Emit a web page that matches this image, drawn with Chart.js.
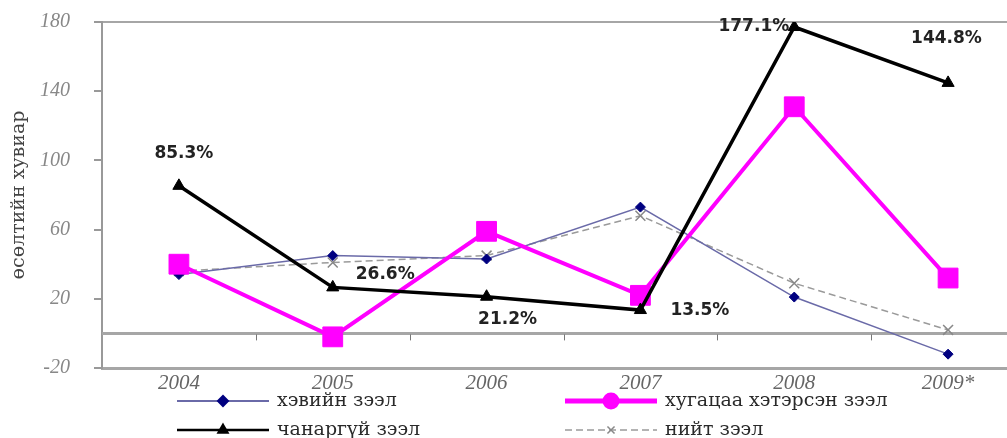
<!DOCTYPE html>
<html>
<head>
<meta charset="utf-8">
<script src="https://cdn.jsdelivr.net/npm/chart.js@4"></script>
<style>
  html, body { margin: 0; padding: 0; background: #fff; overflow: hidden; }
  #wrap { width: 1040px; height: 438px; }
</style>
</head>
<body>
<div id="wrap"><canvas id="loanChart"></canvas></div>
<script>
// values (growth, %)
const years = ['2004', '2005', '2006', '2007', '2008', '2009*'];
const normalLoans = [34, 45, 43, 73, 21, -12];
const overdueLoans = [40, -2, 59, 22, 131, 32];
const badLoans = [85.3, 26.6, 21.2, 13.5, 177.1, 144.8];
const totalLoans = [36, 41, 45, 68, 29, 2];
const yTicks = [-20, 20, 60, 100, 140, 180];

// where the % labels of the bad-loan line sit, relative to each point
const badLabelOffsets = [[5, -32, 'center'], [23, -13, 'left'], [21, 23, 'center'],
  [30, 1, 'left'], [-5, 0, 'right'], [-37, -44, 'left']];

const AXIS_GREY = '#a6a6a6';

// zero line with little tick marks between the categories
const zeroAxis = {
  id: 'zeroAxis',
  beforeDatasetsDraw(chart) {
    const { ctx, chartArea, scales: { x, y } } = chart;
    const y0 = y.getPixelForValue(0);
    const half = (x.getPixelForValue(1) - x.getPixelForValue(0)) / 2;
    ctx.save();
    ctx.strokeStyle = AXIS_GREY;
    ctx.lineWidth = 3;
    ctx.beginPath();
    ctx.moveTo(chartArea.left, y0);
    ctx.lineTo(chartArea.right, y0);
    ctx.stroke();
    ctx.lineWidth = 1;
    ctx.strokeStyle = '#777';
    for (let i = 0; i < years.length - 1; i++) {
      const px = Math.round(x.getPixelForValue(i) + half) + 0.5;
      ctx.beginPath();
      ctx.moveTo(px, y0 + 1);
      ctx.lineTo(px, y0 + 7);
      ctx.stroke();
    }
    ctx.restore();
  }
};

// percent labels on the bad-loan series
const badLabels = {
  id: 'badLabels',
  afterDatasetsDraw(chart) {
    const { ctx } = chart;
    const meta = chart.getDatasetMeta(2);
    ctx.save();
    ctx.font = 'bold 17px "DejaVu Sans"';
    ctx.fillStyle = '#222';
    ctx.textBaseline = 'middle';
    meta.data.forEach((pt, i) => {
      const [dx, dy, align] = badLabelOffsets[i];
      ctx.textAlign = align;
      ctx.fillText(badLoans[i].toFixed(1) + '%', pt.x + dx, pt.y + dy);
    });
    ctx.restore();
  }
};

// two-column legend under the axis
const legendSlots = [[177, 33], [565, 33], [177, 62], [565, 62]];
const gridLegend = {
  id: 'gridLegend',
  afterDraw(chart) {
    const { ctx, chartArea } = chart;
    ctx.save();
    chart.data.datasets.forEach((ds, i) => {
      const lx = legendSlots[i][0];
      const ly = chartArea.bottom + legendSlots[i][1];
      const len = 92;
      ctx.strokeStyle = ds.borderColor;
      ctx.lineWidth = ds.legendLineWidth;
      ctx.setLineDash(ds.borderDash || []);
      ctx.beginPath();
      ctx.moveTo(lx, ly);
      ctx.lineTo(lx + len, ly);
      ctx.stroke();
      ctx.setLineDash([]);
      ctx.fillStyle = ds.pointBackgroundColor;
      ctx.strokeStyle = ds.pointBorderColor;
      Chart.helpers.drawPoint(ctx, {
        pointStyle: ds.legendPointStyle,
        radius: ds.legendPointRadius,
        rotation: 0,
        borderWidth: ds.pointBorderWidth
      }, lx + len / 2, ly);
      ctx.fillStyle = '#2a2a2a';
      ctx.font = '19px "DejaVu Serif"';
      ctx.textBaseline = 'middle';
      ctx.textAlign = 'left';
      ctx.fillText(ds.label, lx + len + 8, ly);
    });
    ctx.restore();
  }
};

new Chart(document.getElementById('loanChart'), {
  type: 'line',
  data: {
    labels: years,
    datasets: [
      {
        label: 'хэвийн зээл',
        data: normalLoans,
        borderColor: '#6a6aa8',
        borderWidth: 1.5,
        legendLineWidth: 2,
        pointStyle: 'rectRot',
        pointRadius: 5,
        legendPointStyle: 'rectRot',
        legendPointRadius: 5,
        pointBackgroundColor: '#000080',
        pointBorderColor: '#000080',
        pointBorderWidth: 1,
        order: 2
      },
      {
        label: 'хугацаа хэтэрсэн зээл',
        data: overdueLoans,
        borderColor: '#ff00ff',
        borderWidth: 4,
        legendLineWidth: 5,
        pointStyle: 'rect',
        pointRadius: 14,
        legendPointStyle: 'circle',
        legendPointRadius: 6,
        pointBackgroundColor: '#ff00ff',
        pointBorderColor: '#ff00ff',
        pointBorderWidth: 1,
        order: 1
      },
      {
        label: 'чанаргүй зээл',
        data: badLoans,
        borderColor: '#000',
        borderWidth: 3.5,
        legendLineWidth: 2.5,
        pointStyle: 'triangle',
        pointRadius: 7,
        legendPointStyle: 'triangle',
        legendPointRadius: 5,
        pointBackgroundColor: '#000',
        pointBorderColor: '#000',
        pointBorderWidth: 1,
        order: 0
      },
      {
        label: 'нийт зээл',
        data: totalLoans,
        borderColor: '#9a9a9a',
        borderWidth: 1.5,
        borderDash: [7, 4],
        legendLineWidth: 1.5,
        pointStyle: 'crossRot',
        pointRadius: 7,
        legendPointStyle: 'crossRot',
        legendPointRadius: 5,
        pointBackgroundColor: '#888',
        pointBorderColor: '#888',
        pointBorderWidth: 1.5,
        order: 3
      }
    ]
  },
  options: {
    responsive: true,
    maintainAspectRatio: false,
    animation: false,
    layout: { padding: { top: 22, right: 5, left: 8, bottom: 0 } },
    plugins: {
      legend: { display: false },
      tooltip: { enabled: false }
    },
    elements: { line: { tension: 0 } },
    scales: {
      x: {
        offset: true,
        grid: { display: false },
        border: { display: true, color: AXIS_GREY, width: 3 },
        ticks: {
          color: '#666',
          font: { family: 'Liberation Serif', style: 'italic', size: 21 },
          padding: -5
        },
        afterFit(scale) { scale.height = 70; }
      },
      y: {
        min: -20,
        max: 180,
        afterBuildTicks(scale) { scale.ticks = yTicks.map(v => ({ value: v })); },
        grid: {
          color: ctx => (ctx.tick && ctx.tick.value === 180 ? AXIS_GREY : 'rgba(0,0,0,0)'),
          lineWidth: 2,
          drawTicks: true,
          tickLength: 8,
          tickColor: '#777',
          tickWidth: 1.5
        },
        border: { display: true, color: '#999', width: 2 },
        ticks: {
          color: '#888',
          font: { family: 'Liberation Serif', style: 'italic', size: 20 },
          padding: 24
        },
        title: {
          display: true,
          text: 'өсөлтийн хувиар',
          color: '#444',
          font: { family: 'DejaVu Serif', size: 19 },
          padding: { top: 0, bottom: 0 }
        },
        afterFit(scale) {
          scale.width = 94;
          scale.paddingTop = 0;
          scale.paddingBottom = 0;
        }
      }
    }
  },
  plugins: [zeroAxis, badLabels, gridLegend]
});
</script>
</body>
</html>
